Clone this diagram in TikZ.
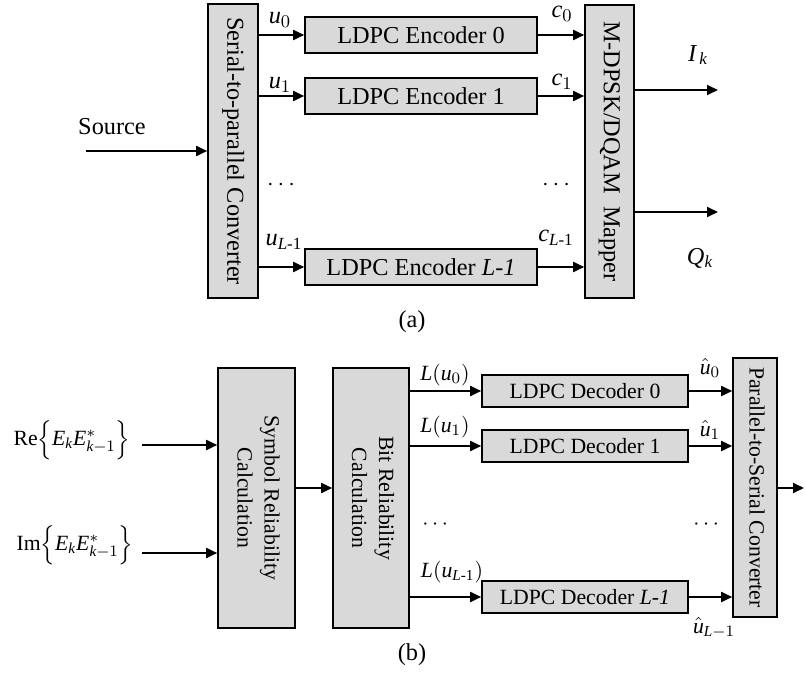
\documentclass[tikz,border=0pt]{standalone}
\usepackage{amsmath}
\usepackage{fontspec}
\setmainfont{Liberation Serif}
\usetikzlibrary{arrows.meta,positioning}
\DeclareSymbolFont{lettersit}{TU}{\rmdefault}{m}{it}
\DeclareMathSymbol{u}{\mathalpha}{lettersit}{`u}
\DeclareMathSymbol{c}{\mathalpha}{lettersit}{`c}
\DeclareMathSymbol{k}{\mathalpha}{lettersit}{`k}
\DeclareMathSymbol{I}{\mathalpha}{lettersit}{`I}
\DeclareMathSymbol{Q}{\mathalpha}{lettersit}{`Q}
\DeclareMathSymbol{L}{\mathalpha}{lettersit}{`L}
\DeclareMathSymbol{E}{\mathalpha}{lettersit}{`E}
\definecolor{boxgray}{RGB}{217,217,217}
\newcommand{\fa}{\fontsize{12.2}{14}\selectfont}
\newcommand{\fb}{\fontsize{10.9}{13.5}\selectfont}
\newcommand{\vtext}[1]{\rotatebox{-90}{\begin{tabular}{@{}c@{}}#1\end{tabular}}}

\begin{document}
\begin{tikzpicture}[
  x=0.5bp, y=-0.5bp,
  box/.style={rectangle, draw, line width=0.8bp, fill=boxgray, inner sep=0pt},
  encbox/.style={box, minimum width=116bp, minimum height=18bp, font=\fa},
  decbox/.style={box, minimum width=103bp, minimum height=16bp, font=\fb},
  arr/.style={-{Triangle[length=5.5bp,width=5bp]}, line width=0.9bp},
  every node/.style={inner sep=1pt}
]
\useasboundingbox (0,0) rectangle (805,676);

% (a): encoder side
\node[box, minimum width=25bp, minimum height=147bp, font=\fa] (s2p) at (233,151) {\vtext{Serial-to-parallel Converter}};
\node[encbox] (enc0) at (421,35) {LDPC Encoder 0};
\node[encbox] (enc1) at (421,96) {LDPC Encoder 1};
\node[encbox] (encL) at (421,267) {LDPC Encoder \textit{L-1}};
\node[box, minimum width=24.5bp, minimum height=146.5bp, font=\fa] (map) at (609.5,151.5) {\vtext{M-DPSK/DQAM\ \ Mapper}};

\coordinate (src) at (86,151);
\node[font=\fa] (srclbl) at (112,127) {Source};
\draw[arr] (src) -- (s2p.west);

\foreach \e in {enc0,enc1,encL}{
  \draw[arr] (s2p.east |- \e.west) -- (\e.west);
  \draw[arr] (\e.east) -- (map.west |- \e.east);
}

\node[font=\fa] (u0) at (280,20) {$u_0$};
\node[font=\fa] (u1) at (280,85) {$u_1$};
\node[font=\fa] (uL) at (284,242) {$u_{L\text{-1}}$};
\node[font=\fa] (c0) at (562,14) {$c_0$};
\node[font=\fa] (c1) at (562,82) {$c_1$};
\node[font=\fa] (cL) at (556,238) {$c_{L\text{-1}}$};
\node[font=\fa] (dotsu) at (283,185) {$\cdots$};
\node[font=\fa] (dotsc) at (558,185) {$\cdots$};

\coordinate (ik) at (718,90);
\coordinate (qk) at (718,212);
\draw[arr] (map.east |- ik) -- (ik);
\draw[arr] (map.east |- qk) -- (qk);
\node[font=\fa] (iklbl) at (698,55) {$I_{\,k}$};
\node[font=\fa] (qklbl) at (700,258) {$Q_k$};

\node[font=\fa] (capa) at (412,322) {(a)};

% (b): decoder side
\node[font=\fb] (re) at (72,440) {$\mathrm{Re}\Big\{E_kE_{k-1}^*\Big\}$};
\node[font=\fb] (im) at (75,545) {$\mathrm{Im}\Big\{E_kE_{k-1}^*\Big\}$};
\coordinate (rein) at (142,445);
\coordinate (imin) at (142,553);

\node[box, minimum width=38.5bp, minimum height=130bp, font=\fb] (sym) at (256.5,498) {\vtext{Symbol Reliability\\Calculation}};
\node[box, minimum width=38bp, minimum height=130bp, font=\fb] (bit) at (371,498) {\vtext{Bit Reliability\\Calculation}};
\draw[arr] (rein) -- (sym.west |- rein);
\draw[arr] (imin) -- (sym.west |- imin);
\draw[arr] ([yshift=5bp]sym.east) -- ([yshift=5bp]bit.west);

\node[decbox] (dec0) at (585,391) {LDPC Decoder 0};
\node[decbox] (dec1) at (585,446) {LDPC Decoder 1};
\node[decbox] (decL) at (585,597) {LDPC Decoder \textit{L-1}};
\node[box, minimum width=22bp, minimum height=129.5bp, font=\fb] (p2s) at (755,487.5) {\vtext{Parallel-to-Serial Converter}};

\foreach \d in {dec0,dec1,decL}{
  \draw[arr] (bit.east |- \d.west) -- (\d.west);
  \draw[arr] (\d.east) -- (p2s.west |- \d.east);
}

\node[font=\fb] (lu0) at (445,375) {$L(u_0)$};
\node[font=\fb] (lu1) at (445,427) {$L(u_1)$};
\node[font=\fb] (luL) at (452,572) {$L(u_{L\text{-1}})$};
\node[font=\fb] (dotsl) at (437,525) {$\cdots$};
\node[font=\fb] (dotsr) at (708,525) {$\cdots$};
\node[font=\fb] (uh0) at (710,368) {$\hat{u}_0$};
\node[font=\fb] (uh1) at (710,430) {$\hat{u}_1$};
\node[font=\fb] (uhL) at (714,628) {$\hat{u}_{L-1}$};

\coordinate (out) at (804,488);
\draw[arr] (p2s.east |- out) -- (out);

\node[font=\fa] (capb) at (412,655) {(b)};
\end{tikzpicture}
\end{document}
